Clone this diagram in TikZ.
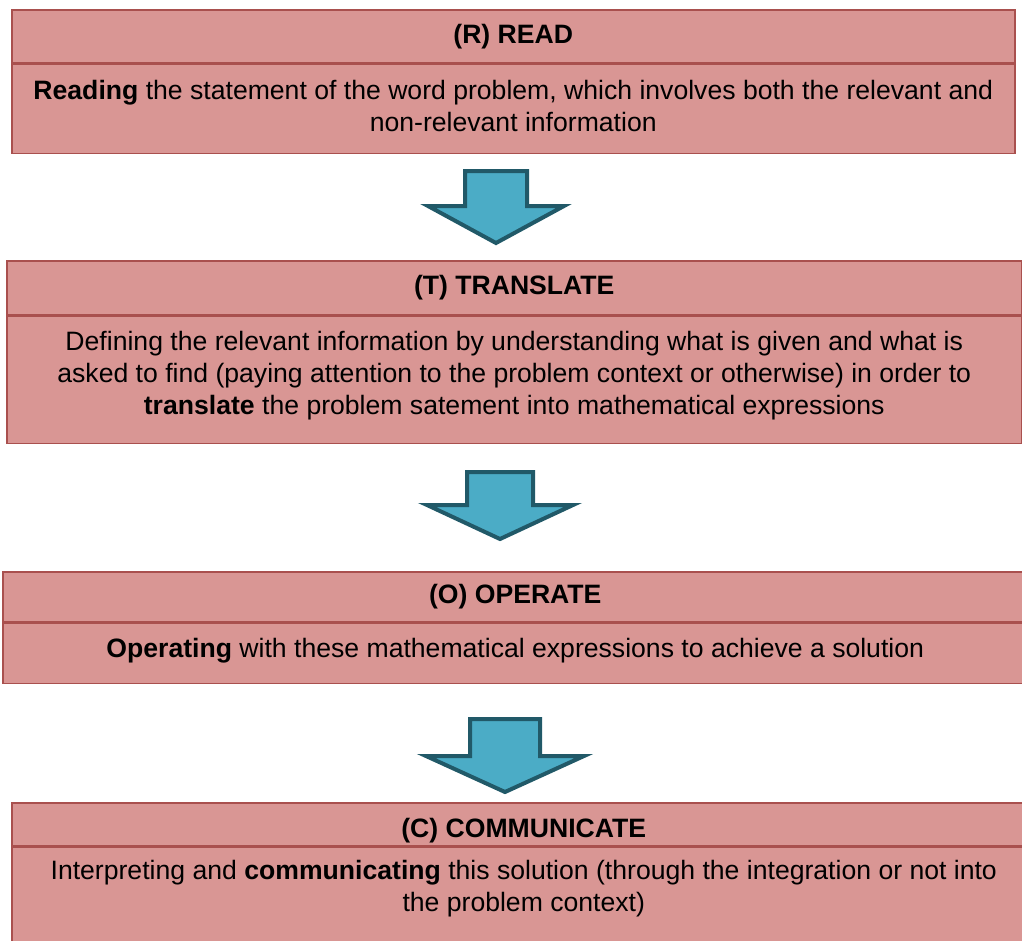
\documentclass[tikz,border=0pt]{standalone}
\usepackage{fontspec}
\setmainfont{Liberation Sans}
\usepackage{tikz}
\usetikzlibrary{calc}
\usetikzlibrary{positioning}
\definecolor{boxfill}{HTML}{D99694}
\definecolor{boxline}{HTML}{A9504E}
\definecolor{arrowfill}{HTML}{4BACC6}
\definecolor{arrowline}{HTML}{215968}
\newcommand{\stepfont}{\fontsize{26.6}{32}\selectfont}
\tikzstyle{headbox} = [rectangle, 
anchor=north west, 
inner sep=0pt, 
draw=boxline, 
line width=1.5pt, 
fill=boxfill, 
font=\stepfont\bfseries]
\tikzstyle{bodybox} = [rectangle, 
anchor=north west, 
inner sep=0pt, 
draw=boxline, 
line width=1.5pt, 
fill=boxfill]
\tikzstyle{bodytext} = [align=center, inner sep=0pt, font=\stepfont]
\tikzstyle{blockarrow} = [draw=arrowline, line width=4pt, fill=arrowfill, line join=miter]

\begin{document}
\begin{tikzpicture}[x=1pt, y=-1pt]
    \useasboundingbox (0,0) rectangle (1022,940);

    % Boxes
    \node (read) [headbox, minimum width=1003, minimum height=53] at (11,9) {(R) READ};
    \node (readbody) [bodybox, minimum width=1003, minimum height=89] at (read.south west) {};
    \node (readtxt) [bodytext] at ($(readbody.center)+(0,-2.5)$) {\textbf{Reading} the statement of the word problem, which involves both the relevant and\\non-relevant information};

    \node (translate) [headbox, minimum width=1015, minimum height=54] at (6,260) {(T) TRANSLATE};
    \node (translatebody) [bodybox, minimum width=1015, minimum height=127] at (translate.south west) {};
    \node (translatetxt) [bodytext] at ($(translatebody.center)+(0,-4.5)$) {Defining the relevant information by understanding what is given and what is\\asked to find (paying attention to the problem context or otherwise) in order to\\\textbf{translate} the problem satement into mathematical expressions};

    \node (operate) [headbox, minimum width=1025, minimum height=50] at (2,571) {(O) OPERATE};
    \node (operatebody) [bodybox, minimum width=1025, minimum height=60] at (operate.south west) {};
    \node (operatetxt) [bodytext] at ($(operatebody.center)+(0,-3)$) {\textbf{Operating} with these mathematical expressions to achieve a solution};

    \node (communicate) [headbox, minimum width=1024, minimum height=43, text height=31.5pt, text depth=5.6pt] at (11,802) {(C) COMMUNICATE};
    \node (communicatebody) [bodybox, minimum width=1024, minimum height=115] at (communicate.south west) {};
    \node (communicatetxt) [bodytext] at ($(communicatebody.center)+(0,-16.5)$) {Interpreting and \textbf{communicating} this solution (through the integration or not into\\the problem context)};

    % Arrows between the boxes
    \foreach \cx/\shaft/\wing/\ytop/\ywing/\ytip in {496/31/68/171/206/243, 500/33/73/472/505/539, 505/35/79/719/756/792}
        \draw [blockarrow] (\cx-\shaft,\ytop) -- (\cx+\shaft,\ytop) -- (\cx+\shaft,\ywing) -- (\cx+\wing,\ywing)
            -- (\cx,\ytip) -- (\cx-\wing,\ywing) -- (\cx-\shaft,\ywing) -- cycle;
\end{tikzpicture}
\end{document}
